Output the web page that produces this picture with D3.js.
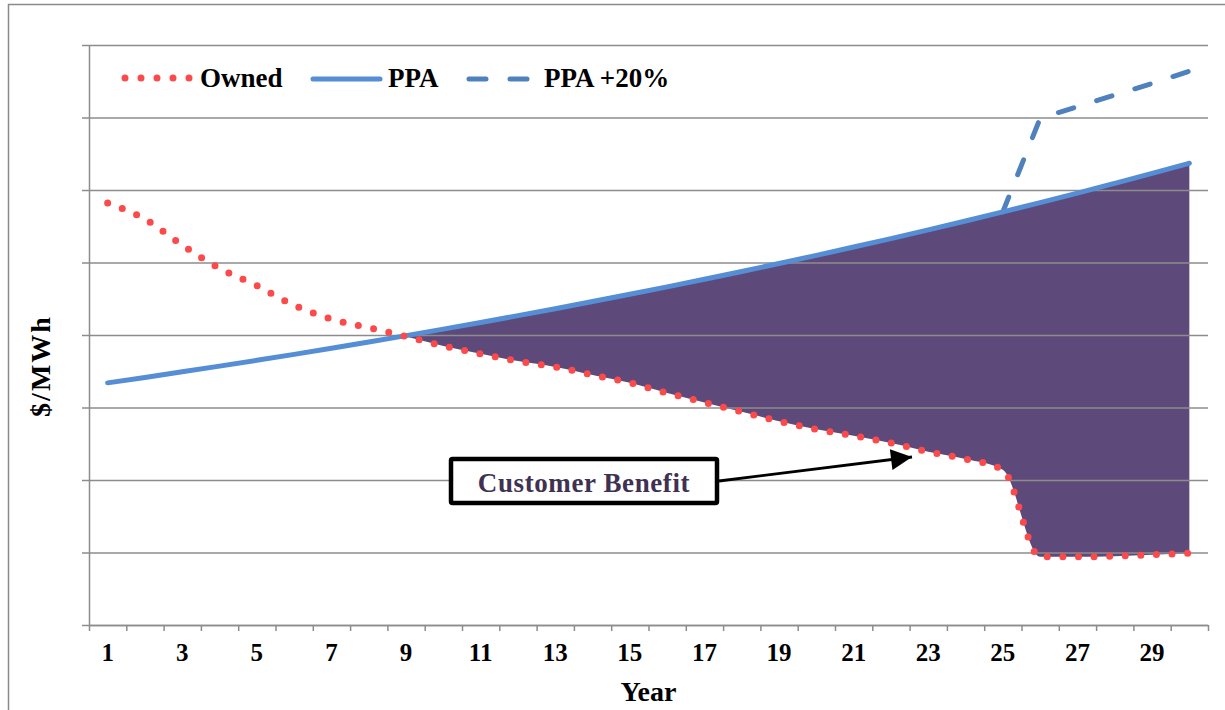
<!DOCTYPE html>
<html>
<head>
  <meta charset="utf-8" />
  <title>Owned vs PPA</title>
  <script src="https://d3js.org/d3.v7.min.js"></script>
</head>
<style>
body {
  margin: 0;
  background: #fff;
}
svg text {
  font-family: 'Liberation Serif', 'Times New Roman', serif;
  font-weight: bold;
  fill: #000;
}
</style>
<body>
<div id="viz"></div>
<script>
'use strict';

// data ($/MWh, arbitrary units: one gridline = 1)
const years = d3.range(1, 31);
const owned = [5.82, 5.60, 5.24, 4.92, 4.68, 4.41, 4.22, 4.10, 3.98, 3.85,
  3.74, 3.64, 3.56, 3.45, 3.34, 3.20, 3.07, 2.94, 2.81, 2.70,
  2.61, 2.51, 2.39, 2.29, 2.14, 0.94, 0.94, 0.95, 0.97, 0.99];
const ppa = [3.34, 3.415, 3.492, 3.571, 3.651, 3.733, 3.817, 3.903, 3.991, 4.081,
  4.173, 4.267, 4.363, 4.461, 4.561, 4.664, 4.769, 4.876, 4.986, 5.098,
  5.213, 5.330, 5.450, 5.573, 5.698, 5.826, 5.957, 6.092, 6.229, 6.369];
const ppa20 = [null, null, null, null, null, null, null, null, null, null,
  null, null, null, null, null, null, null, null, null, null,
  null, null, null, null, 5.698, 6.99, 7.15, 7.31, 7.47, 7.64];
const benefitStart = 9;
const tickYears = [1, 3, 5, 7, 9, 11, 13, 15, 17, 19, 21, 23, 25, 27, 29];

const W = 1225, H = 710;
const m = {left: 89, right: 1208, top: 45, bottom: 625};

const svg = d3.select('#viz').append('svg')
  .attr('width', W).attr('height', H);

// outer chart border
svg.append('rect')
  .attr('x', 8.5).attr('y', 4.5)
  .attr('width', 1240).attr('height', 720)
  .attr('fill', 'none')
  .attr('stroke', '#8a8a8a')
  .attr('stroke-width', 1.5);

const x = d3.scaleBand().domain(years).range([m.left, m.right]);
const cx = d => x(d) + x.bandwidth() / 2;
const xEdge = d3.scaleLinear().domain([0.5, 30.5]).range([m.left, m.right]);
const y = d3.scaleLinear().domain([0, 8]).range([m.bottom, m.top]);

const rows = years.map((yr, i) => ({yr, owned: owned[i], ppa: ppa[i], ppa20: ppa20[i]}));

// benefit area
const area = d3.area()
  .x(d => cx(d.yr))
  .y0(d => y(d.owned))
  .y1(d => y(d.ppa))
  .curve(d3.curveMonotoneX);
svg.append('path')
  .datum(rows.filter(d => d.yr >= benefitStart))
  .attr('d', area)
  .attr('fill', '#5e4a7a');

// gridlines
svg.append('g')
  .attr('transform', 'translate(' + m.left + ',0)')
  .call(d3.axisLeft(y).ticks(8).tickSize(-(m.right - m.left)).tickFormat(''))
  .call(g => g.select('.domain').remove())
  .call(g => g.selectAll('line').attr('stroke', '#8c8c8c').attr('stroke-width', 1.5));

// y axis with outer ticks
svg.append('g')
  .attr('transform', 'translate(' + m.left + ',0)')
  .call(d3.axisLeft(y).ticks(8).tickSize(7).tickSizeOuter(0).tickFormat(''))
  .call(g => g.selectAll('line, path').attr('stroke', '#8c8c8c').attr('stroke-width', 1.5));

// x axis: ticks between categories
svg.append('g')
  .attr('transform', 'translate(0,' + m.bottom + ')')
  .call(d3.axisBottom(xEdge).tickValues(d3.range(0.5, 31, 1)).tickSize(6).tickSizeOuter(0).tickFormat(''))
  .call(g => g.selectAll('line, path').attr('stroke', '#8c8c8c').attr('stroke-width', 1.5));

// x tick labels
svg.append('g')
  .attr('transform', 'translate(0,' + (m.bottom + 15) + ')')
  .call(d3.axisBottom(x).tickValues(tickYears).tickSize(0))
  .call(g => g.select('.domain').remove())
  .call(g => g.selectAll('text')
    .attr('font-size', 25)
    .attr('font-family', "'Liberation Serif', serif")
    .attr('font-weight', 'bold')
    .attr('fill', '#000'));

// axis titles
svg.append('text')
  .attr('x', (m.left + m.right) / 2).attr('y', 701)
  .attr('text-anchor', 'middle')
  .attr('font-size', 28)
  .text('Year');
svg.append('text')
  .attr('transform', 'translate(50,366) rotate(-90)')
  .attr('text-anchor', 'middle')
  .attr('font-size', 28)
  .attr('letter-spacing', 2)
  .text('$/MWh');

const line = (key, curve) => d3.line()
  .defined(d => d[key] != null)
  .x(d => cx(d.yr))
  .y(d => y(d[key]))
  .curve(curve);

// PPA +20%
svg.append('path')
  .datum(rows)
  .attr('d', line('ppa20', d3.curveLinear))
  .attr('fill', 'none')
  .attr('stroke', '#4f81bd')
  .attr('stroke-width', 5)
  .attr('stroke-linecap', 'round')
  .attr('stroke-dasharray', '16 24');

// PPA
svg.append('path')
  .datum(rows)
  .attr('d', line('ppa', d3.curveMonotoneX))
  .attr('fill', 'none')
  .attr('stroke', '#558ed5')
  .attr('stroke-width', 5)
  .attr('stroke-linecap', 'round');

// Owned
svg.append('path')
  .datum(rows)
  .attr('d', line('owned', d3.curveMonotoneX))
  .attr('fill', 'none')
  .attr('stroke', '#fc4a4a')
  .attr('stroke-width', 7)
  .attr('stroke-linecap', 'round')
  .attr('stroke-dasharray', '0 15.6');

// legend
const legend = svg.append('g');
legend.append('line')
  .attr('x1', 125).attr('x2', 190).attr('y1', 78).attr('y2', 78)
  .attr('stroke', '#fc4a4a').attr('stroke-width', 7)
  .attr('stroke-linecap', 'round').attr('stroke-dasharray', '0 16');
legend.append('text').attr('x', 200).attr('y', 87).attr('font-size', 27).text('Owned');
legend.append('line')
  .attr('x1', 313).attr('x2', 380).attr('y1', 79).attr('y2', 79)
  .attr('stroke', '#558ed5').attr('stroke-width', 5).attr('stroke-linecap', 'round');
legend.append('text').attr('x', 388).attr('y', 87).attr('font-size', 27).text('PPA');
legend.append('line')
  .attr('x1', 469).attr('x2', 530).attr('y1', 79).attr('y2', 79)
  .attr('stroke', '#4f81bd').attr('stroke-width', 5).attr('stroke-linecap', 'round')
  .attr('stroke-dasharray', '17 24');
legend.append('text').attr('x', 544).attr('y', 87).attr('font-size', 27).text('PPA +20%');

// annotation
svg.append('defs').append('marker')
  .attr('id', 'arrow')
  .attr('viewBox', '0 0 10 10')
  .attr('refX', 10).attr('refY', 5)
  .attr('markerWidth', 10).attr('markerHeight', 7.5)
  .attr('markerUnits', 'strokeWidth')
  .attr('orient', 'auto')
  .append('path')
  .attr('d', 'M0,0L10,5L0,10Z')
  .attr('fill', '#000');
svg.append('line')
  .attr('x1', 719).attr('y1', 481)
  .attr('x2', 912).attr('y2', 457)
  .attr('stroke', '#000').attr('stroke-width', 2.8)
  .attr('marker-end', 'url(#arrow)');
svg.append('rect')
  .attr('x', 451).attr('y', 459)
  .attr('width', 266).attr('height', 44)
  .attr('fill', '#fff')
  .attr('stroke', '#000').attr('stroke-width', 4.5)
  .attr('rx', 1.5);
svg.append('text')
  .attr('x', 584).attr('y', 492)
  .attr('text-anchor', 'middle')
  .attr('font-size', 27)
  .attr('letter-spacing', 0.6)
  .style('fill', '#403152')
  .text('Customer Benefit');
</script>
</body>
</html>
